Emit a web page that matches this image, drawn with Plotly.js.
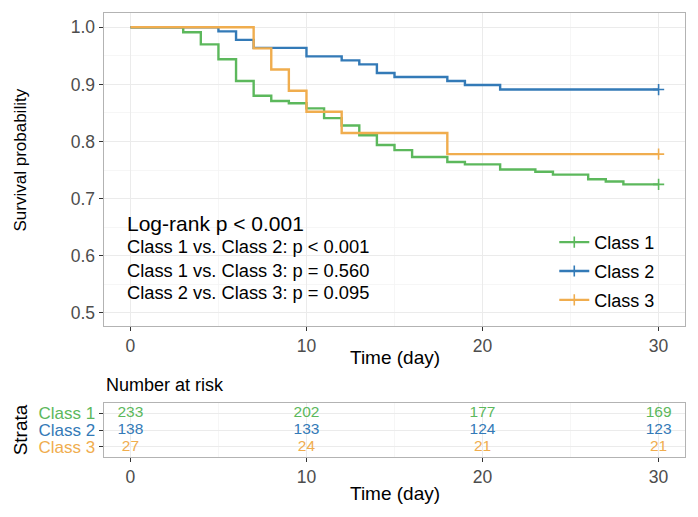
<!DOCTYPE html>
<html>
<head>
<meta charset="utf-8">
<script src="https://cdn.plot.ly/plotly-3.0.1.min.js"></script>
<style>html,body{margin:0;padding:0;background:#fff;}#chart{width:698px;height:517px;}</style>
</head>
<body>
<div id="chart"></div>
<script>
// ---- Data ----
const classNames = ["Class 1", "Class 2", "Class 3"];
const classColors = ["#5cb85c", "#337ab7", "#f0ad4e"];

const class1Time = [0, 3, 4, 5, 6, 7, 8, 9, 10, 11, 12, 13, 14, 15, 16, 18, 19, 21, 23, 24, 26, 27, 28, 30];
const class1Surv = [1, 0.9914, 0.970, 0.944, 0.906, 0.880, 0.871, 0.867, 0.858, 0.841, 0.828, 0.811, 0.794, 0.785, 0.773, 0.764, 0.760, 0.751, 0.747, 0.742, 0.734, 0.730, 0.725, 0.725];

const class2Time = [0, 5, 6, 7, 10, 12, 13, 14, 15, 18, 19, 21, 30];
const class2Surv = [1, 0.9928, 0.978, 0.964, 0.949, 0.942, 0.935, 0.920, 0.913, 0.906, 0.899, 0.891, 0.891];

const class3Time = [0, 7, 8, 9, 10, 12, 18, 30];
const class3Surv = [1, 0.963, 0.926, 0.889, 0.852, 0.815, 0.778, 0.778];

const riskTimes = [0, 10, 20, 30];
const riskClass1 = [233, 202, 177, 169];
const riskClass2 = [138, 133, 124, 123];
const riskClass3 = [27, 24, 21, 21];

const statLines = [
  "Log-rank p < 0.001",
  "Class 1 vs. Class 2: p < 0.001",
  "Class 1 vs. Class 3: p = 0.560",
  "Class 2 vs. Class 3: p = 0.095"
];

// ---- Build traces ----
const FONT = "Liberation Sans, Arial, Helvetica, sans-serif";
const times = [class1Time, class2Time, class3Time];
const survs = [class1Surv, class2Surv, class3Surv];
const risks = [riskClass1, riskClass2, riskClass3];

const traces = [];
for (let i = 0; i < 3; i++) {
  traces.push({
    type: "scatter", mode: "lines", x: times[i], y: survs[i],
    line: {shape: "hv", color: classColors[i], width: 2.4},
    legendgroup: "g" + i, showlegend: false, hoverinfo: "skip",
    xaxis: "x", yaxis: "y"
  });
}
for (let i = 0; i < 3; i++) {
  const n = times[i].length;
  traces.push({
    type: "scatter", mode: "lines+markers", name: classNames[i],
    x: [times[i][n - 1]], y: [survs[i][n - 1]],
    line: {color: classColors[i], width: 2.4},
    marker: {symbol: "cross-thin", size: 8, color: classColors[i], line: {color: classColors[i], width: 1.6}},
    legendgroup: "g" + i, hoverinfo: "skip", xaxis: "x", yaxis: "y"
  });
}
for (let i = 0; i < 3; i++) {
  traces.push({
    type: "scatter", mode: "text", x: riskTimes, y: riskTimes.map(() => i + 1),
    text: risks[i].map(String),
    textfont: {family: FONT, size: 15.5, color: classColors[i]},
    textposition: "middle center", showlegend: false, hoverinfo: "skip",
    xaxis: "x2", yaxis: "y2"
  });
}

// ---- Layout ----
const gridMajor = "#ebebeb", gridMinor = "#f4f4f4", borderCol = "#b3b3b3";
const tickFont = {family: FONT, size: 17.5, color: "#4d4d4d"};
function xAx(anchor) {
  return {
    anchor: anchor, domain: [0, 1], range: [-1.5, 31.5],
    tickmode: "linear", tick0: 0, dtick: 10,
    ticks: "outside", ticklen: 4, tickwidth: 1, tickcolor: "#333333",
    tickfont: tickFont, showgrid: true, gridcolor: gridMajor, gridwidth: 1,
    minor: {dtick: 5, tick0: 0, showgrid: true, gridcolor: gridMinor, gridwidth: 0.8, ticks: ""},
    showline: true, mirror: true, linecolor: borderCol, linewidth: 1.4,
    zeroline: false, automargin: false
  };
}
const titleFont = {family: FONT, size: 19, color: "#000"};
const layout = {
  width: 698, height: 517,
  margin: {l: 104, r: 13, t: 13, b: 60},
  paper_bgcolor: "#ffffff", plot_bgcolor: "#ffffff",
  font: {family: FONT},
  showlegend: true,
  legend: {
    x: 0.775, y: 0.525, xanchor: "left", yanchor: "top",
    bgcolor: "rgba(0,0,0,0)", borderwidth: 0,
    font: {family: FONT, size: 18, color: "#000"},
    tracegroupgap: 2.5, traceorder: "grouped"
  },
  xaxis: xAx("y"),
  xaxis2: xAx("y2"),
  yaxis: {
    domain: [0.2957, 1], range: [0.4775, 1.025], anchor: "x",
    tickmode: "linear", tick0: 0.5, dtick: 0.1, tickformat: ".1f",
    ticks: "outside", ticklen: 4, tickwidth: 1, tickcolor: "#333333",
    tickfont: tickFont, showgrid: true, gridcolor: gridMajor, gridwidth: 1,
    minor: {dtick: 0.05, tick0: 0.5, showgrid: true, gridcolor: gridMinor, gridwidth: 0.8, ticks: ""},
    showline: true, mirror: true, linecolor: borderCol, linewidth: 1.4,
    zeroline: false, automargin: false
  },
  yaxis2: {
    domain: [0, 0.1216], range: [3.6, 0.4], anchor: "x2",
    tickmode: "array", tickvals: [1, 2, 3],
    ticktext: classNames.map((c, i) => '<span style="color:' + classColors[i] + '">' + c + '</span>'),
    ticks: "outside", ticklen: 4, tickwidth: 1, tickcolor: "#333333",
    tickfont: {family: FONT, size: 17, color: "#4d4d4d"},
    showgrid: true, gridcolor: gridMajor, gridwidth: 1,
    showline: true, mirror: true, linecolor: borderCol, linewidth: 1.4,
    zeroline: false, automargin: false,
    title: {text: "Strata", font: titleFont, standoff: 6}
  },
  annotations: [
    {xref: "paper", yref: "paper", x: 0, y: (457 - 385) / 444, xanchor: "left", yanchor: "middle",
     text: "Number at risk", showarrow: false, font: {family: FONT, size: 18, color: "#000"}},
    {xref: "paper", yref: "paper", x: 0.5, y: (457 - 357) / 444, xanchor: "center", yanchor: "middle",
     text: "Time (day)", showarrow: false, font: titleFont},
    {xref: "paper", yref: "paper", x: 0.5, y: (457 - 494) / 444, xanchor: "center", yanchor: "middle",
     text: "Time (day)", showarrow: false, font: titleFont},
    {xref: "paper", yref: "paper", x: (20.5 - 104) / 581, y: (457 - 160) / 444, xanchor: "center", yanchor: "middle",
     textangle: -90, text: "Survival probability", showarrow: false,
     font: {family: FONT, size: 17, color: "#000"}}
  ].concat(statLines.map((t, k) => ({
    xref: "paper", yref: "paper", x: (125 - 104) / 581,
    y: (457 - [223.3, 246.7, 270, 292.7][k]) / 444,
    xanchor: "left", yanchor: "middle", text: t, showarrow: false,
    font: {family: FONT, size: k === 0 ? 21 : 18.3, color: "#000"}
  })))
};

Plotly.newPlot("chart", traces, layout, {staticPlot: true, displayModeBar: false});
</script>
</body>
</html>
